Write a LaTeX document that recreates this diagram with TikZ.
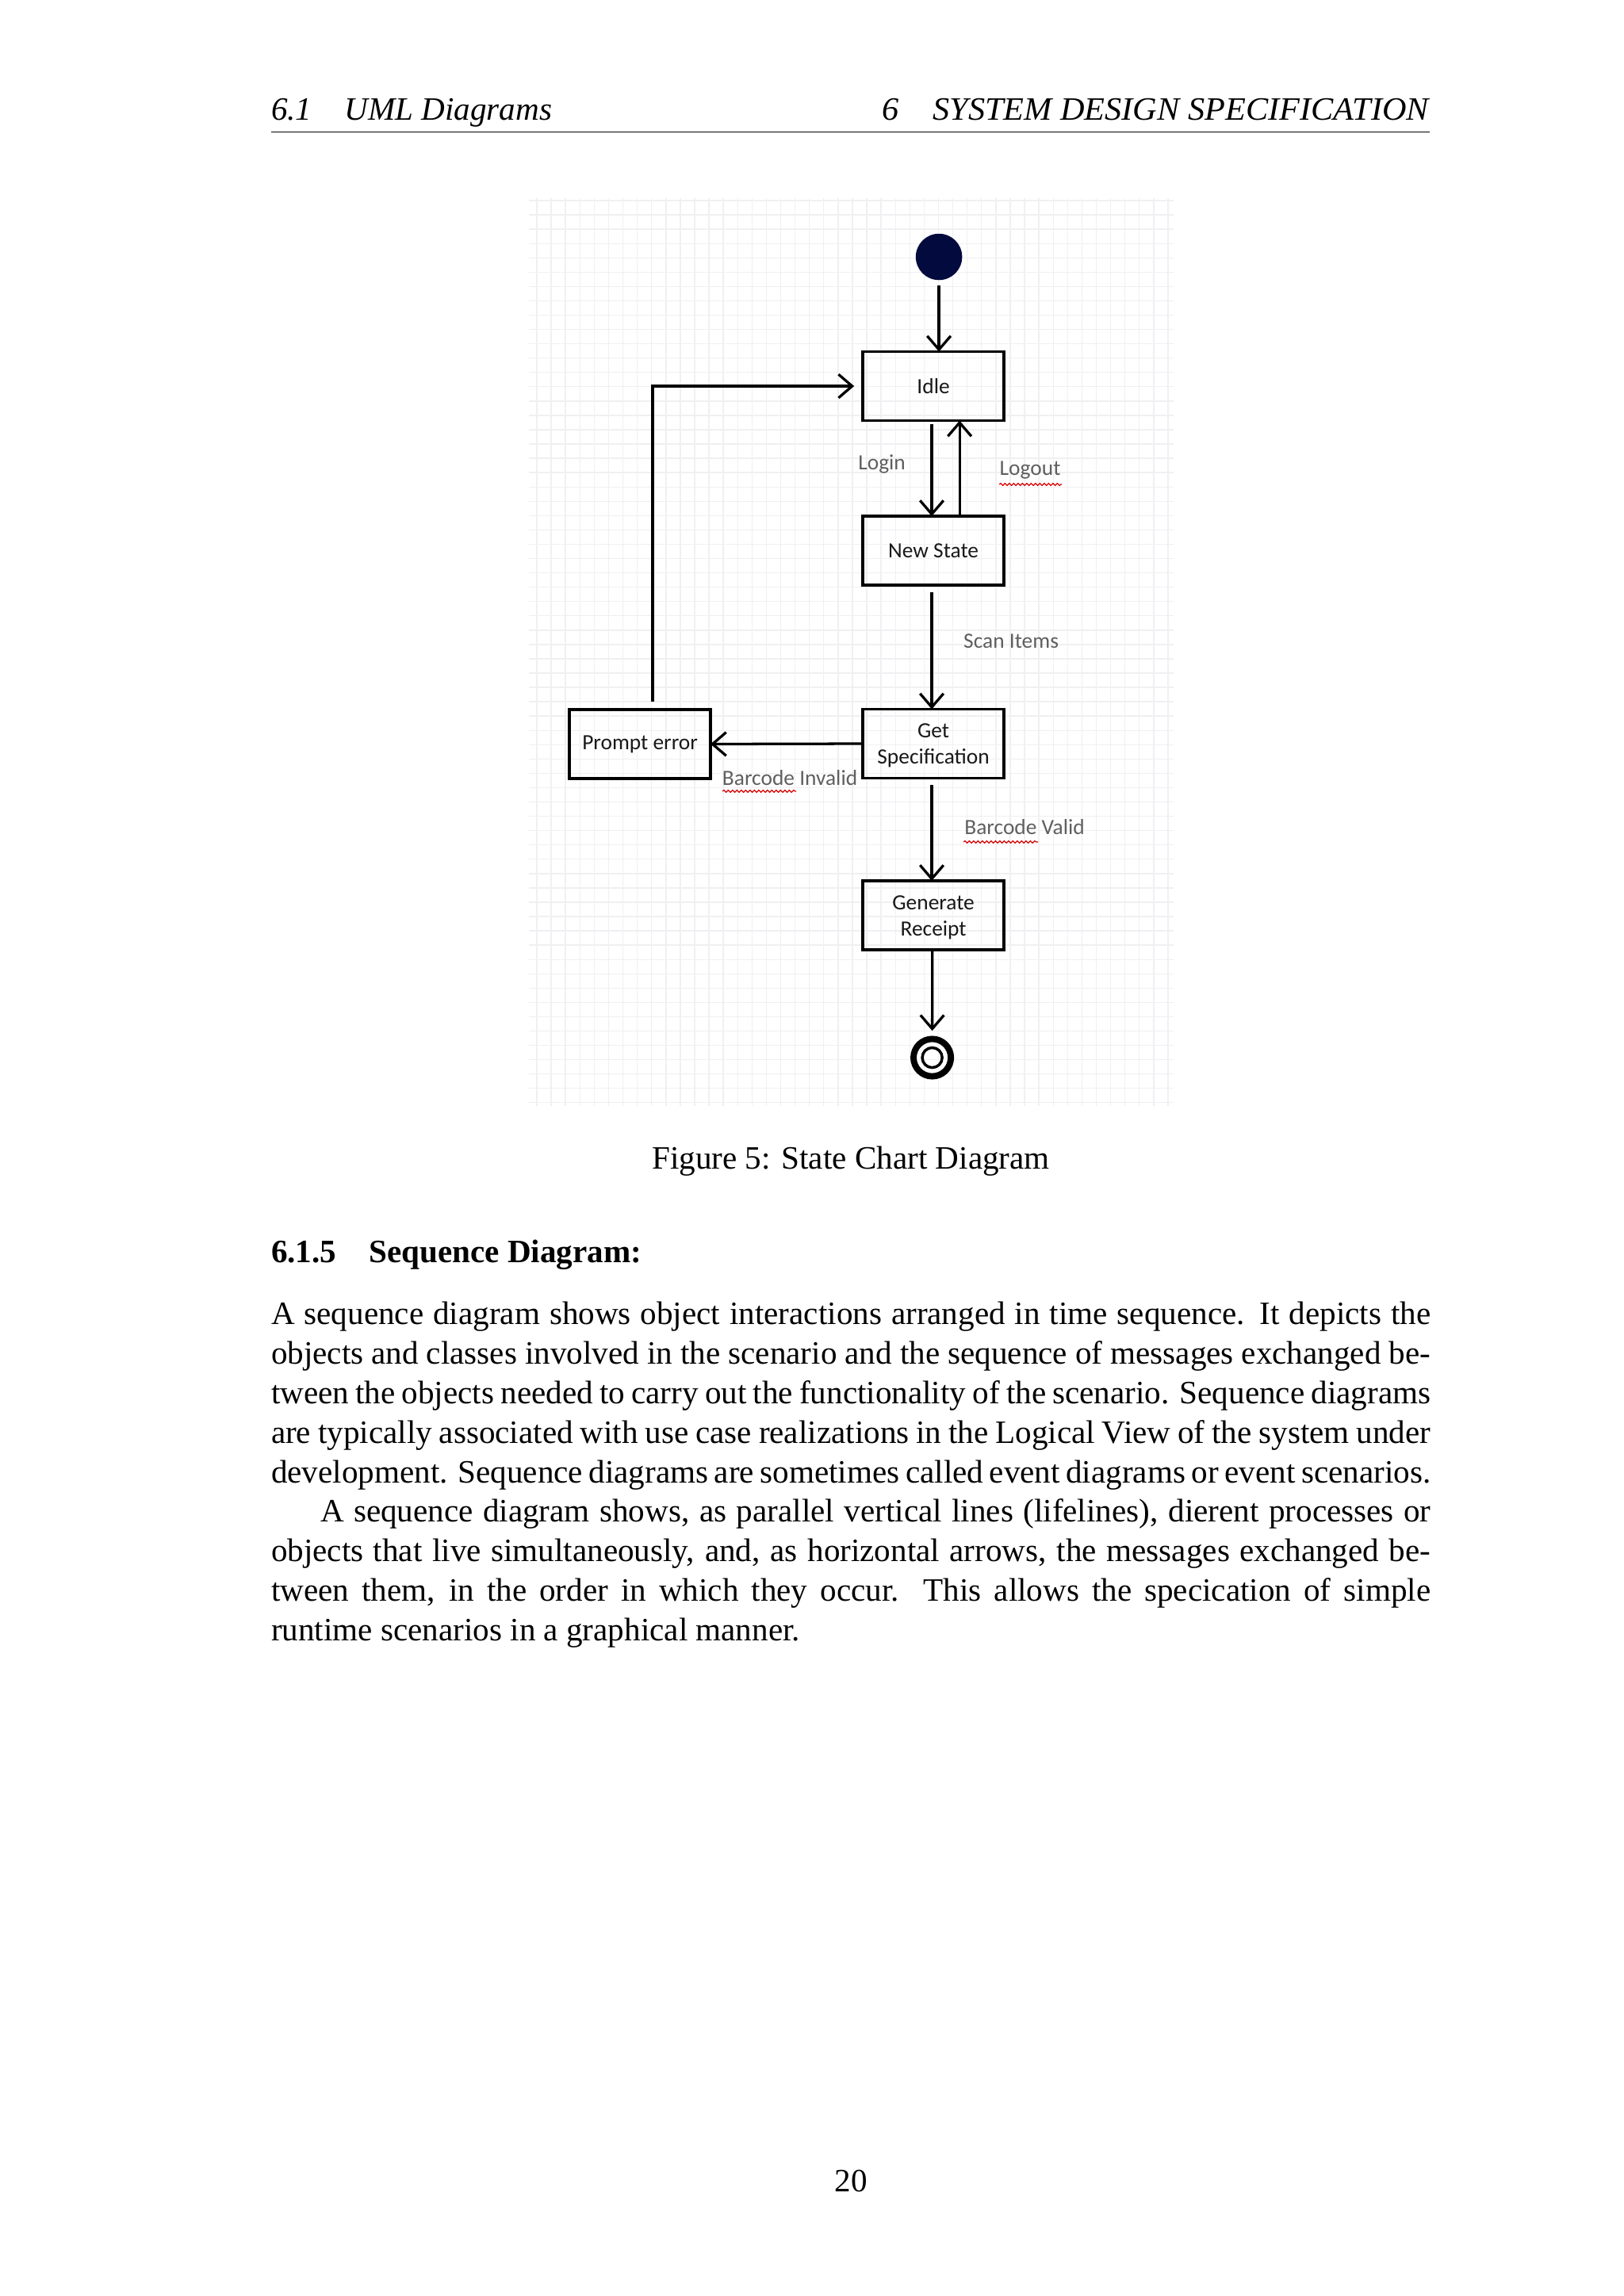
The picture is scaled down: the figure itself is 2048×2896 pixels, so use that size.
\documentclass[tikz,border=0pt]{standalone}
\usepackage{fontspec}
\setmainfont{Liberation Serif}
\newfontfamily\diagfont{Carlito}
\usetikzlibrary{arrows.meta,decorations.pathmorphing,calc}
\definecolor{navy}{RGB}{3,10,62}
\definecolor{lblgray}{RGB}{95,95,95}
\definecolor{gridgray}{RGB}{240,240,243}
\definecolor{boxtext}{RGB}{25,25,25}
\begin{document}
\begin{tikzpicture}[x=0.290662bp, y=-0.290662bp,
  every node/.style={inner sep=0pt, outer sep=0pt},
  statebox/.style={draw=black, line width=1.05bp, minimum width=51.7bp, minimum height=25.3bp, align=center, font=\diagfont\fontsize{8}{10}\selectfont, text=boxtext},
  boxtxt/.style={anchor=base, font=\diagfont\fontsize{8}{10}\selectfont, text=boxtext},
  flow/.style={draw=black, line width=0.95bp, -{Straight Barb[length=5bp,width=8.6bp,line width=0.95bp]}},
  lbl/.style={font=\diagfont\fontsize{8}{10}\selectfont, text=lblgray},
  wavy/.style={draw=red!85!black, line width=0.35bp, decorate, decoration={snake, segment length=1.6bp, amplitude=0.4bp}},
  gridline/.style={draw=gridgray, line width=0.4bp},
  body/.style={anchor=base west, font=\fontsize{12}{14.5}\selectfont},
  ]
\fill[white] (0,0) rectangle (2048,2896);
\useasboundingbox (0,0) rectangle (2048,2896);

% header
\node[body, font=\fontsize{12}{14.5}\selectfont\itshape] (hl) at (342,151) {6.1\hspace{1em}UML Diagrams};
\node[anchor=base east, font=\fontsize{12}{14.5}\selectfont\itshape] (hr) at (1802,151) {\scalebox{1.028}[1]{6\hspace{1em}SYSTEM DESIGN SPECIFICATION}};
\draw[line width=0.4pt] (342,166.5) -- (1803,166.5);

% grid
\foreach \i in {0,...,44} \draw[gridline] ({677+18.09*\i},250) -- ({677+18.09*\i},1395);
\foreach \j in {0,...,63} \draw[gridline] (667,{253+18.06*\j}) -- (1480,{253+18.06*\j});

\begin{scope}[xshift=0.9bp]
% states
\node[circle, fill=navy, minimum size=17bp] (start) at (1181,324) {};
\node[statebox] (idle) at (1174,487) {Idle};
\node[statebox] (new) at (1174,694.5) {New State};
\node[statebox] (spec) at (1174,938) {};
\node[boxtxt] (spec1) at (1174,930) {Get};
\node[boxtxt] (spec2) at (1174,963) {Specification};
\node[statebox] (prompt) at (804,938.5) {Prompt error};
\node[statebox] (receipt) at (1174,1154.5) {};
\node[boxtxt] (rec1) at (1174,1147) {Generate};
\node[boxtxt] (rec2) at (1174,1180) {Receipt};
\node[circle, draw=black, line width=2.3bp, minimum size=13.7bp] (end) at (1172.5,1334) {};
\node[circle, draw=black, line width=1bp, minimum size=7.3bp] (endin) at (1172.5,1334) {};

% labels
\node[lbl] (login) at (1109,585) {Login};
\node[lbl] (logout) at (1296,593) {Logout};
\node[lbl] (scan) at (1272,809) {Scan Items};
\node[lbl] (invalid) at (993,981) {Barcode Invalid};
\node[lbl] (valid) at (1289,1043) {Barcode Valid};
\draw[wavy] (1257,611) -- (1336,611);
\draw[wavy] (908,998) -- (1001,998);
\draw[wavy] (1212,1062) -- (1306,1062);

% connectors
\draw[flow, shorten <=2bp] (start.south) -- (start.south |- idle.north);
\draw[flow, shorten <=1.4bp] ([xshift=-0.6bp]idle.south) -- ([xshift=-0.6bp]new.north);
\draw[flow] ([xshift=9.6bp]new.north) -- ([xshift=9.6bp]idle.south);
\draw[flow, shorten <=2.6bp] ([xshift=-0.6bp]new.south) -- ([xshift=-0.6bp]spec.north);
\draw[flow] (spec.west) -- (prompt.east);
\draw[flow, shorten <=2.6bp] ([xshift=-0.6bp]spec.south) -- ([xshift=-0.6bp]receipt.north);
\draw[flow, shorten >=3bp] ([xshift=-0.4bp]receipt.south) -- (end.north);
\draw[flow, shorten <=2.9bp, shorten >=3.2bp] ([xshift=4.65bp]prompt.north) |- (idle.west);
\end{scope}

% caption and text
\node[anchor=base, font=\fontsize{12}{14.5}\selectfont] (cap) at (1073,1474) {Figure 5: State Chart Diagram};
\node[body, font=\fontsize{12}{14.5}\selectfont\bfseries] (sec) at (342,1592) {6.1.5\hspace{1em}Sequence Diagram:};

\node[body] (l1) at (342,1670) {\makebox[425bp][s]{A sequence diagram shows object interactions arranged in time sequence. It depicts the}};
\node[body] (l2) at (342,1720) {\makebox[425bp][s]{objects and classes involved in the scenario and the sequence of messages exchanged be-}};
\node[body] (l3) at (342,1770) {\makebox[425bp][s]{tween the objects needed to carry out the functionality of the scenario. Sequence diagrams}};
\node[body] (l4) at (342,1820) {\makebox[425bp][s]{are typically associated with use case realizations in the Logical View of the system under}};
\node[body] (l5) at (342,1870) {\makebox[425bp][s]{development. Sequence diagrams are sometimes called event diagrams or event scenarios.}};
\node[body] (l6) at (404,1919.5) {\makebox[407bp][s]{A sequence diagram shows, as parallel vertical lines (lifelines), dierent processes or}};
\node[body] (l7) at (342,1969) {\makebox[425bp][s]{objects that live simultaneously, and, as horizontal arrows, the messages exchanged be-}};
\node[body] (l8) at (342,2019) {\makebox[425bp][s]{tween them, in the order in which they occur. This allows the specication of simple}};
\node[body] (l9) at (342,2069) {runtime scenarios in a graphical manner.};

\node[anchor=base, font=\fontsize{12}{14.5}\selectfont] (pg) at (1073,2764) {20};
\end{tikzpicture}
\end{document}
